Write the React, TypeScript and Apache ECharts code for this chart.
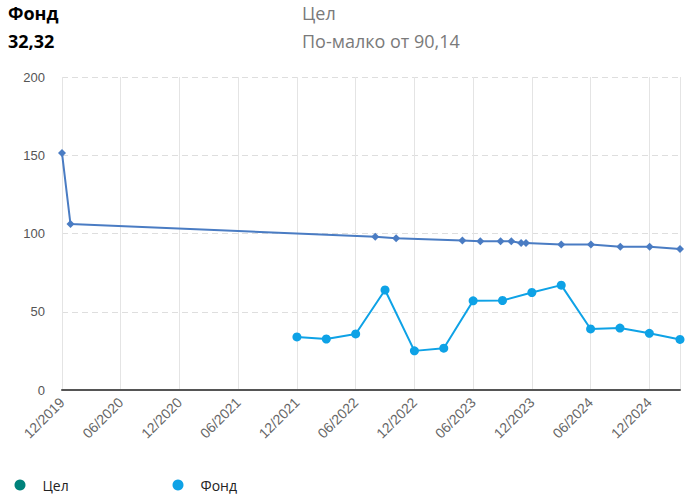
import React, { useEffect, useRef } from "react";
import * as echarts from "echarts";

const targetDates = [
  "2019-12-01", "2019-12-27", "2022-08-01", "2022-10-05", "2023-04-28",
  "2023-06-23", "2023-08-25", "2023-09-28", "2023-10-28", "2023-11-13",
  "2024-03-01", "2024-06-02", "2024-09-02", "2024-12-02", "2025-03-05",
];
const targetValues = [151.4, 106, 98, 97, 95.5, 95, 95, 95, 94, 94, 93, 93, 91.5, 91.5, 90.14];

const fundDates = [
  "2021-12-01", "2022-03-01", "2022-06-01", "2022-09-01", "2022-12-01",
  "2023-03-01", "2023-06-01", "2023-09-01", "2023-12-01", "2024-03-01",
  "2024-06-01", "2024-09-01", "2024-12-01", "2025-03-05",
];
const fundValues = [33.9, 32.6, 35.8, 63.9, 25.0, 26.7, 57.0, 57.2, 62.3, 67.0, 39.0, 39.6, 36.2, 32.32];

const seriesNames = ["Цел", "Фонд"];
const headerFund = "Фонд";
const headerFundValue = "32,32";
const headerTarget = "Цел";
const headerTargetText = "По-малко от 90,14";

const AXIS_START = "2019-12-01";
const AXIS_END = "2025-03-05";

function monthIndex(d: string): number {
  const [y, m, day] = d.split("-").map(Number);
  return (y - 2019) * 12 + (m - 12) + (day - 1) / 30;
}

function fmtMonth(v: number): string {
  const r = Math.round(v);
  if (Math.abs(v - r) > 1e-6 || r % 6 !== 0) return "";
  const total = 2019 * 12 + 11 + r;
  const year = Math.floor(total / 12);
  const month = (total % 12) + 1;
  return (month < 10 ? "0" : "") + month + "/" + year;
}

export default function App() {
  const ref = useRef<HTMLDivElement>(null);
  useEffect(() => {
    if (!ref.current) return;
    const chart = echarts.init(ref.current, null, { renderer: "svg" });
    const targetData = targetDates.map((d, i) => [monthIndex(d), targetValues[i]]);
    const fundData = fundDates.map((d, i) => [monthIndex(d), fundValues[i]]);
    const legendText = { fontFamily: "Open Sans", fontSize: 14, color: "#222", padding: [0, 0, 0, 12] };
    chart.setOption({
      animation: false,
      backgroundColor: "#ffffff",
      grid: { left: 62, right: 20, top: 77, bottom: 104, containLabel: false },
      graphic: [
        { type: "text", left: 8, top: 4, style: { text: headerFund, font: "bold 18px 'Open Sans'", fill: "#000" } },
        { type: "text", left: 8, top: 32, style: { text: headerFundValue, font: "bold 18px 'Open Sans'", fill: "#000" } },
        { type: "text", left: 302, top: 4, style: { text: headerTarget, font: "18px 'Open Sans'", fill: "#7a7a7a" } },
        { type: "text", left: 302, top: 32, style: { text: headerTargetText, font: "18px 'Open Sans'", fill: "#7a7a7a" } },
      ],
      legend: [
        {
          left: 14.5, top: 478, padding: 0, icon: "circle", itemWidth: 11, itemHeight: 11,
          data: [{ name: seriesNames[0], itemStyle: { color: "#00827b" } }],
          textStyle: legendText,
        },
        {
          left: 172.5, top: 478, padding: 0, icon: "circle", itemWidth: 11, itemHeight: 11,
          data: [{ name: seriesNames[1], itemStyle: { color: "#0ea2e6" } }],
          textStyle: legendText,
        },
      ],
      xAxis: {
        type: "value",
        min: monthIndex(AXIS_START),
        max: monthIndex(AXIS_END),
        interval: 6,
        axisLine: { show: true, lineStyle: { color: "#555", width: 2 } },
        axisTick: { show: false },
        axisLabel: {
          rotate: 45,
          margin: 10,
          color: "#666",
          fontFamily: "Liberation Sans, Arial",
          fontSize: 14,
          showMaxLabel: false,
          formatter: (v: number) => fmtMonth(v),
        },
        splitLine: { show: true, lineStyle: { color: "#e4e4e4", width: 1, type: "solid" } },
      },
      yAxis: {
        type: "value",
        min: 0,
        max: 200,
        interval: 50,
        axisLine: { show: false },
        axisTick: { show: false },
        axisLabel: { margin: 17, color: "#555", fontFamily: "Liberation Sans, Arial", fontSize: 13 },
        splitLine: { show: true, lineStyle: { color: "#dedede", width: 1, type: [6, 4] } },
      },
      series: [
        {
          name: seriesNames[0],
          type: "line",
          data: targetData,
          symbol: "diamond",
          symbolSize: 8,
          lineStyle: { color: "#4a7cc3", width: 2 },
          itemStyle: { color: "#4a7cc3" },
        },
        {
          name: seriesNames[1],
          type: "line",
          data: fundData,
          symbol: "circle",
          symbolSize: 9,
          lineStyle: { color: "#0ea2e6", width: 2 },
          itemStyle: { color: "#0ea2e6" },
        },
      ],
    });
    return () => chart.dispose();
  }, []);
  return <div ref={ref} style={{ position: "fixed", left: 0, top: 0, width: 700, height: 494 }} />;
}
